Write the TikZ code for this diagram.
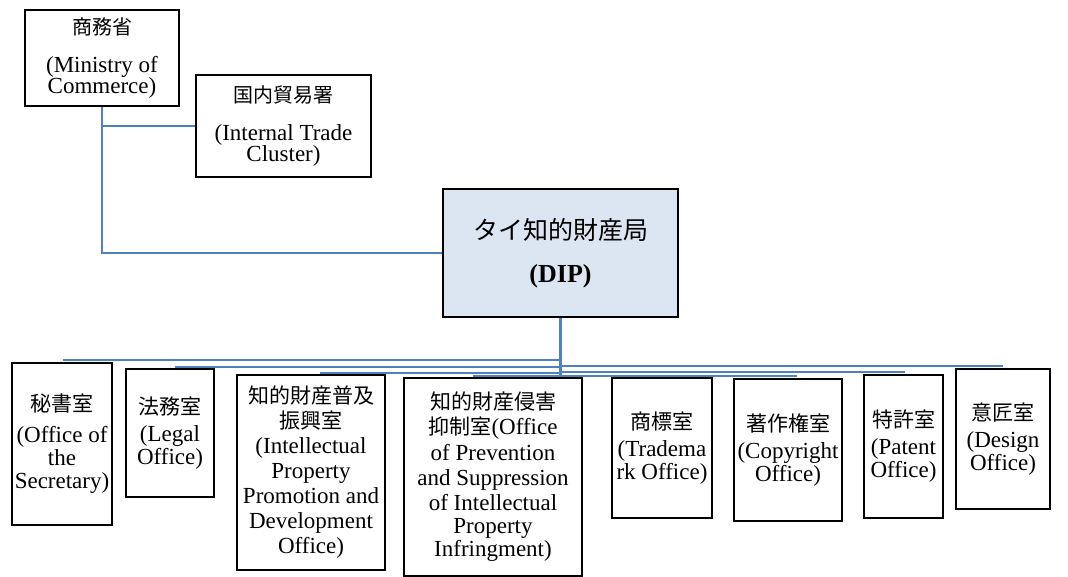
\documentclass[tikz,border=0pt]{standalone}
\usepackage{fontspec}
\setmainfont{Liberation Serif}
\newfontfamily\cjkfont{Noto Sans CJK JP}
\newcommand\cjktxt[1]{{\cjkfont\fontsize{21pt}{23pt}\selectfont #1}}
\newcommand\cjktop[1]{{\cjkfont\fontsize{20pt}{22pt}\selectfont #1}}
\definecolor{orgblue}{HTML}{4F81BD}
\definecolor{dipfill}{HTML}{DCE6F2}
\pgfdeclarelayer{bg}
\pgfsetlayers{bg,main}
\tikzset{
  box/.style={draw=black, line width=2pt, fill=white, rectangle, inner sep=0pt, align=center,
    font=\fontsize{23pt}{23pt}\selectfont},
  topbox/.style={box, font=\fontsize{23pt}{21pt}\selectfont},
  conn/.style={draw=orgblue, line width=2.3pt}
}
\begin{document}
\begin{tikzpicture}[x=1pt,y=-1pt]
\useasboundingbox (0,0) rectangle (1068,577);
% top
\node[topbox, minimum width=154pt, minimum height=96pt] (ms) at (102,58)
  {\cjktop{商務省}\\[17pt](Ministry of\\Commerce)};
\node[topbox, minimum width=175pt, minimum height=102pt] (it) at (283.5,126)
  {\cjktop{国内貿易署}\\[17pt](Internal Trade\\Cluster)};
\node[box, fill=dipfill, minimum width=235pt, minimum height=128pt,
  font=\fontsize{26pt}{26pt}\selectfont] (dip) at (560.5,253)
  {{\cjkfont\fontsize{25pt}{26pt}\selectfont タイ知的財産局}\\[17pt]\textbf{(DIP)}};
% bottom
\node[box, minimum width=100pt, minimum height=162pt] (b1) at (62,444)
  {\cjktxt{秘書室}\\[8pt](Office of\\the\\Secretary)};
\node[box, minimum width=88pt, minimum height=128pt] (b2) at (170,433)
  {\cjktxt{法務室}\\[4pt](Legal\\Office)};
\node[box, minimum width=148pt, minimum height=195pt] (b3) at (311,472.5)
  {\cjktxt{知的財産普及}\\[2pt]\cjktxt{振興室}\\[2pt](Intellectual\\[2pt]Property\\[2pt]Promotion and\\[2pt]Development\\[2pt]Office)};
\node[box, minimum width=178pt, minimum height=198pt] (b4) at (493,477)
  {\cjktxt{知的財産侵害}\\[2pt]\cjktxt{抑制室}(Office\\[3pt]of Prevention\\[2pt]and Suppression\\[2pt]of Intellectual\\[0pt]Property\\[0pt]Infringment)};
\node[box, minimum width=100pt, minimum height=140pt] (b5) at (662,448)
  {\cjktxt{商標室}\\[4pt](Tradema\\rk Office)};
\node[box, minimum width=108pt, minimum height=142pt] (b6) at (788,450)
  {\cjktxt{著作権室}\\[4pt](Copyright\\Office)};
\node[box, minimum width=79pt, minimum height=143pt] (b7) at (903.5,446.5)
  {\cjktxt{特許室}\\[4pt](Patent\\Office)};
\node[box, minimum width=94pt, minimum height=140pt] (b8) at (1003,439)
  {\cjktxt{意匠室}\\[4pt](Design\\Office)};
% connector ends
\coordinate (h1) at (63,360);
\coordinate (h2) at (175,367);
\coordinate (h3) at (320,373);
\coordinate (h4) at (473,376);
\coordinate (r1) at (1003,366);
\coordinate (r2) at (905,372);
\coordinate (r3) at (797,376);
\coordinate (vend) at (560.5,375);
\begin{pgfonlayer}{bg}
\draw[conn] (ms.south) |- (dip.west);
\draw[conn] (ms.south |- it.west) -- (it.west);
\draw[conn] (dip.south) -- (vend);
\draw[conn] (h1) -- (dip.south |- h1);
\draw[conn] (h2) -- (dip.south |- h2);
\draw[conn] (h3) -- (dip.south |- h3);
\draw[conn] (h4) -- (b5.north |- h4);
\draw[conn] (dip.south |- r1) -- (r1);
\draw[conn] (dip.south |- r2) -- (r2);
\draw[conn] (dip.south |- r3) -- (r3);
\end{pgfonlayer}
\end{tikzpicture}
\end{document}
